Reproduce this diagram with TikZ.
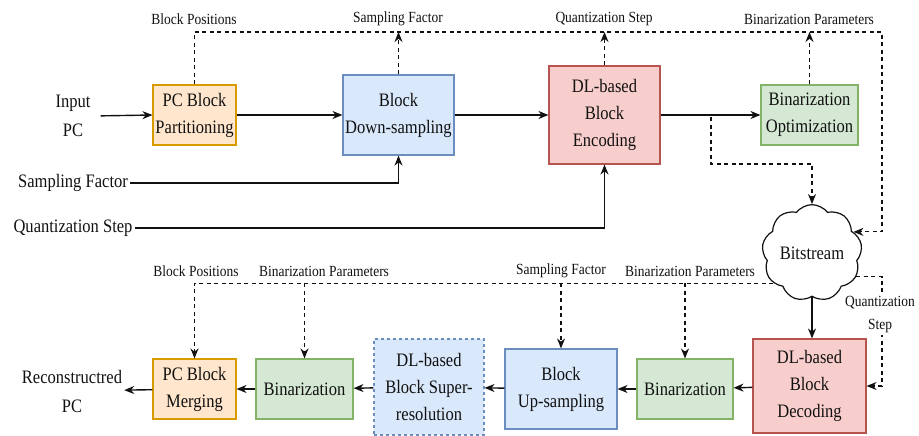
\documentclass[tikz,border=0pt]{standalone}
\usepackage{fontspec}
\setmainfont{Liberation Serif}[FakeStretch=0.87]
\usetikzlibrary{arrows.meta,shapes.symbols}
\definecolor{ofill}{HTML}{FFE6CC}\definecolor{oline}{HTML}{D79B00}
\definecolor{bfill}{HTML}{DAE8FC}\definecolor{bline}{HTML}{6C8EBF}
\definecolor{rfill}{HTML}{F8CECC}\definecolor{rline}{HTML}{B85450}
\definecolor{gfill}{HTML}{D5E8D4}\definecolor{gline}{HTML}{82B366}
\definecolor{ink}{HTML}{111111}
\begin{document}
\begin{tikzpicture}[x=1pt,y=-1pt,
  box/.style={draw, line width=1.1pt, align=center, inner sep=0pt, text=ink, font=\fontsize{19}{27}\selectfont},
  obox/.style={box, fill=ofill, draw=oline},
  bbox/.style={box, fill=bfill, draw=bline},
  rbox/.style={box, fill=rfill, draw=rline},
  gbox/.style={box, fill=gfill, draw=gline},
  lab/.style={font=\fontsize{15.5}{23}\selectfont, inner sep=1pt, text=ink, align=center},
  side/.style={font=\fontsize{19}{29}\selectfont, align=center, text=ink, inner sep=2pt},
  sol/.style={draw=ink, line width=1.4pt, -{Stealth[length=10pt,width=8pt]}},
  dsh/.style={draw=ink, line width=1.2pt, dash pattern=on 4pt off 3.5pt},
  dar/.style={dsh, -{Stealth[length=10pt,width=8pt]}},
]
\useasboundingbox (0,0) rectangle (919,436);

% top row
\node[obox, minimum width=83pt, minimum height=60pt] (part) at (194.5,115) {PC Block\\Partitioning};
\node[bbox, minimum width=111pt, minimum height=80pt] (down) at (398.5,115) {Block\\Down-sampling};
\node[rbox, minimum width=111pt, minimum height=98pt] (enc) at (604.5,115) {DL-based\\Block\\Encoding};
\node[gbox, minimum width=97pt, minimum height=60pt] (bopt) at (809.5,115) {Binarization\\Optimization};

\node[side] (inpc) at (73,116) {Input\\PC};
\node[side] (sf) at (73,183) {Sampling Factor};
\node[side] (qs) at (73,228) {Quantization Step};

% cloud
\node[cloud, draw=ink, line width=1.2pt, fill=white, cloud puffs=9, cloud puff arc=105, aspect=1.05,
      minimum width=94pt, minimum height=86pt, inner sep=0pt, text=ink, font=\fontsize{19}{27}\selectfont] (bs) at (812,253) {Bitstream};

% bottom row
\node[rbox, minimum width=113pt, minimum height=94pt] (dec) at (809.5,386) {DL-based\\Block\\Decoding};
\node[gbox, minimum width=96pt, minimum height=60pt] (binR) at (685,389) {Binarization};
\node[bbox, dashed, dash pattern=on 3pt off 3pt, minimum width=110pt, minimum height=96pt] (sr) at (429,387) {DL-based\\Block Super-\\resolution};
\node[bbox, minimum width=112pt, minimum height=80pt] (up) at (561,389) {Block\\Up-sampling};
\node[gbox, minimum width=97pt, minimum height=60pt] (binL) at (304.5,389) {Binarization};
\node[obox, minimum width=83pt, minimum height=60pt] (merge) at (194.5,389) {PC Block\\Merging};
\node[side] (rpc) at (72,391) {Reconstructred\\PC};

% top labels
\node[lab] (l1) at (194,19) {Block Positions};
\node[lab] (l2) at (398,19) {Sampling Factor};
\node[lab] (l3) at (604,19) {Quantization Step};
\node[lab] (l4) at (809,19) {Binarization Parameters};
% bottom labels
\node[lab] (m1) at (196,271) {Block Positions};
\node[lab] (m2) at (324,271) {Binarization Parameters};
\node[lab] (m3) at (561,271) {Sampling Factor};
\node[lab] (m4) at (690,271) {Binarization Parameters};

% solid flow top
\draw[sol, shorten <=8pt] (inpc.east) -- (part.west);
\draw[sol] (part) -- (down);
\draw[sol] (down) -- (enc);
\draw[sol] (enc) -- (bopt);
\draw[sol] (sf.east) -| (down.south);
\draw[sol] (qs.east) -| (enc.south);

% top dashed
\coordinate (tr) at (882,32);
\draw[dar] (part.north) |- (tr) |- (bs.27);
\draw[dar] (down.north) -- (down.north |- tr);
\draw[dar] (enc.north) -- (enc.north |- tr);
\draw[dar] (bopt.north) -- (bopt.north |- tr);
\coordinate (db) at (711,164);
\draw[dar] (enc.east) -| (db) -| (bs.north);

% bottom solid
\draw[sol] (bs.south) -- (bs.south |- dec.north);
\draw[sol] (dec) -- (binR);
\draw[sol] (binR) -- (up);
\draw[sol] (up) -- (sr);
\draw[sol] (sr) -- (binL);
\draw[sol] (binL) -- (merge);
\draw[sol] (merge) -- (rpc);

% bottom dashed
\coordinate (rx) at (882,0);
\draw[dar] (bs.-28) -| (rx |- dec.east) -- (dec.east);
\node[lab, fill=white, inner sep=2pt] (qsr) at (880,315) {Quantization\\Step};
\draw[dar] (bs.218) -| (merge.north);
\draw[dar] (binL.north |- bs.218) -- (binL.north);
\draw[dar] (up.north |- bs.218) -- (up.north);
\draw[dar] (binR.north |- bs.218) -- (binR.north);
\end{tikzpicture}
\end{document}
